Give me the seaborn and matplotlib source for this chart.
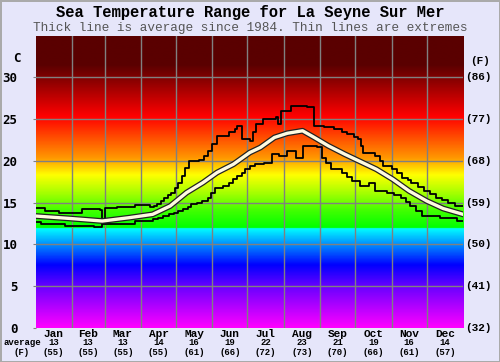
import numpy as np
import pandas as pd
import seaborn as sns
import matplotlib.pyplot as plt
from matplotlib.colors import LinearSegmentedColormap
from matplotlib import transforms

# --- data (day of year, temperature C) ---
max_day = [0, 8, 20, 40, 55, 57, 59, 70, 85, 98, 101, 104, 107, 110, 113, 116, 119, 122, 125,
           128, 131, 140, 144, 147, 151, 155, 165, 170, 172, 176, 183, 186, 188, 194, 205, 207,
           210, 218, 232, 238, 246, 255, 262, 266, 272, 275, 278, 280, 290, 294, 297, 304, 309,
           313, 318, 321, 327, 332, 337, 342, 347, 352, 358, 365]
max_temp = [14.3, 14.0, 13.8, 14.2, 14.1, 12.6, 14.4, 14.5, 14.7, 14.5, 14.6, 14.8, 15.2, 15.6,
            15.9, 16.2, 16.8, 17.4, 18.2, 19.2, 20.0, 20.1, 20.6, 21.2, 22.0, 23.0, 23.4, 23.8,
            24.2, 22.6, 22.4, 23.5, 24.4, 25.0, 25.2, 24.4, 26.0, 26.6, 26.4, 24.2, 24.0, 23.8,
            23.5, 23.2, 22.9, 22.6, 21.8, 21.0, 20.6, 20.0, 19.4, 19.0, 18.5, 18.0, 17.7, 17.4,
            16.9, 16.4, 16.0, 15.6, 15.3, 15.0, 14.6, 14.6]

min_day = [0, 5, 25, 50, 57, 85, 100, 105, 109, 114, 118, 122, 126, 130, 133, 138, 142, 147,
           150, 153, 160, 165, 169, 172, 176, 179, 183, 187, 195, 202, 208, 215, 222, 228, 240,
           245, 248, 252, 262, 266, 270, 277, 285, 290, 300, 306, 312, 316, 320, 325, 330, 345,
           360, 365]
min_temp = [12.7, 12.4, 12.2, 12.1, 12.5, 12.8, 13.0, 13.2, 13.4, 13.6, 13.8, 14.0, 14.2, 14.5,
            14.8, 15.0, 15.2, 15.6, 16.2, 16.8, 17.0, 17.4, 17.8, 18.2, 18.6, 19.0, 19.4, 19.6,
            19.8, 20.8, 20.6, 21.2, 20.4, 21.8, 21.6, 20.4, 19.7, 19.0, 18.6, 18.1, 17.6, 17.0,
            17.4, 16.4, 16.2, 15.9, 15.6, 15.1, 14.6, 14.0, 13.4, 13.2, 12.8, 12.8]

avg_day = [0, 30, 57, 80, 100, 115, 129, 143, 155, 169, 183, 192, 204, 215, 228, 238, 250, 264,
           279, 291, 305, 319, 334, 348, 365]
avg_temp = [13.4, 13.1, 12.8, 13.2, 13.6, 14.6, 16.2, 17.4, 18.6, 19.6, 21.0, 21.6, 22.8, 23.3,
            23.6, 22.8, 21.8, 20.8, 19.8, 19.0, 17.8, 16.4, 15.2, 14.3, 13.6]

months = ['Jan', 'Feb', 'Mar', 'Apr', 'May', 'Jun', 'Jul', 'Aug', 'Sep', 'Oct', 'Nov', 'Dec']
month_avg_c = [13, 13, 13, 14, 16, 19, 22, 23, 21, 19, 16, 14]
month_avg_f = [55, 55, 55, 55, 61, 66, 72, 73, 70, 66, 61, 57]
c_ticks = [0, 5, 10, 15, 20, 25, 30]
f_labels = ['(32)', '(41)', '(50)', '(59)', '(68)', '(77)', '(86)']

month_len = [31, 28, 31, 30, 31, 30, 31, 31, 30, 31, 30, 31]
month_edges = np.concatenate([[0], np.cumsum(month_len)])
month_mid = (month_edges[:-1] + month_edges[1:]) / 2

bg = '#e6e6fa'
mono = 'Liberation Mono'

fig = plt.figure(figsize=(5, 3.62), dpi=100, facecolor=bg)
fig.patch.set_edgecolor('#aaaaaa')
fig.patch.set_linewidth(1)
ax = fig.add_axes([35.5 / 500, (362 - 328) / 362, 427.5 / 500, 292.5 / 362])

# background colour ramp
stops = [(0, '#ff00ff'), (5, '#6600ff'), (7.5, '#0000ff'), (10, '#0090ff'), (11.9, '#00ffff'),
         (11.95, '#00ff00'), (14, '#40ff00'), (16, '#a0ff00'), (18.3, '#ffff00'),
         (20.3, '#ff9900'), (25.3, '#ff0000'), (30, '#800000'), (31.5, '#5a0000'), (35, '#5a0000')]
cmap = LinearSegmentedColormap.from_list('sea', [(v / 35, c) for v, c in stops], N=512)
ramp = np.linspace(0, 35, 600).reshape(-1, 1)
ax.imshow(ramp, cmap=cmap, aspect='auto', origin='lower', extent=[0, 365, 0, 35], zorder=0)

# grid
for e in month_edges[1:-1]:
    ax.axvline(e, color='#808080', lw=1, zorder=1)
for t in c_ticks[1:]:
    ax.axhline(t, color='#808080', lw=1, zorder=1)

df_max = pd.DataFrame({'day': max_day, 'temp': max_temp})
df_min = pd.DataFrame({'day': min_day, 'temp': min_temp})
df_avg = pd.DataFrame({'day': avg_day, 'temp': avg_temp})

sns.lineplot(data=df_max, x='day', y='temp', ax=ax, color='black', lw=1.3,
             drawstyle='steps-post', estimator=None, zorder=3)
sns.lineplot(data=df_min, x='day', y='temp', ax=ax, color='black', lw=1.3,
             drawstyle='steps-post', estimator=None, zorder=3)
sns.lineplot(data=df_avg, x='day', y='temp', ax=ax, color='#222222', lw=4.2,
             estimator=None, zorder=4)
sns.lineplot(data=df_avg, x='day', y='temp', ax=ax, color='#fffbe0', lw=2.4,
             estimator=None, zorder=5)

ax.set_xlim(0, 365)
ax.set_ylim(0, 35)
ax.set_xlabel('')
ax.set_ylabel('')
for s in ax.spines.values():
    s.set_visible(False)

ax.set_yticks(c_ticks)
ax.set_yticklabels([str(t) for t in c_ticks], fontfamily='DejaVu Sans Mono',
                   fontweight='bold', fontsize=9)
ax.tick_params(axis='y', length=2, color='#808080', pad=11)
ax.set_xticks(month_mid)
ax.set_xticklabels(months, fontfamily=mono, fontweight='bold', fontsize=8)
ax.tick_params(axis='x', length=0, pad=1)

# right-hand fahrenheit labels
rt = transforms.blended_transform_factory(ax.transAxes, ax.transData)
for t, lab in zip(c_ticks, f_labels):
    ax.text(1.006, t, lab, transform=rt, ha='left', va='center',
            fontfamily=mono, fontweight='bold', fontsize=8)
ax.text(1.04, 31.9, '(F)', transform=rt, ha='center', va='center',
        fontfamily=mono, fontweight='bold', fontsize=8)
ax.text(-0.043, 32.2, 'C', transform=rt, ha='center', va='center',
        fontfamily='DejaVu Sans Mono', fontweight='bold', fontsize=9)

# monthly averages under the axis
bt = transforms.blended_transform_factory(ax.transData, fig.transFigure)
for m, c, f in zip(month_mid, month_avg_c, month_avg_f):
    ax.text(m, 1 - 342.7 / 362, str(c), transform=bt, ha='center', va='center',
            fontfamily=mono, fontsize=6.5, fontweight='bold')
    ax.text(m, 1 - 352.3 / 362, '(%d)' % f, transform=bt, ha='center', va='center',
            fontfamily=mono, fontsize=6.5, fontweight='bold')
fig.text(22 / 500, 1 - 342.7 / 362, 'average', ha='center', va='center',
         fontfamily=mono, fontsize=6.5, fontweight='bold')
fig.text(22 / 500, 1 - 352.3 / 362, '(F)', ha='center', va='center',
         fontfamily=mono, fontsize=6.5, fontweight='bold')

fig.text(0.5, 1 - 13 / 362, 'Sea Temperature Range for La Seyne Sur Mer', ha='center',
         va='center', fontfamily=mono, fontweight='bold', fontsize=11.2)
fig.text(0.5, 1 - 28 / 362, 'Thick line is average since 1984. Thin lines are extremes',
         ha='center', va='center', fontfamily=mono, fontsize=9.2, color='#555555')

fig.savefig('out.png', dpi=100, facecolor=bg, edgecolor=fig.patch.get_edgecolor())
